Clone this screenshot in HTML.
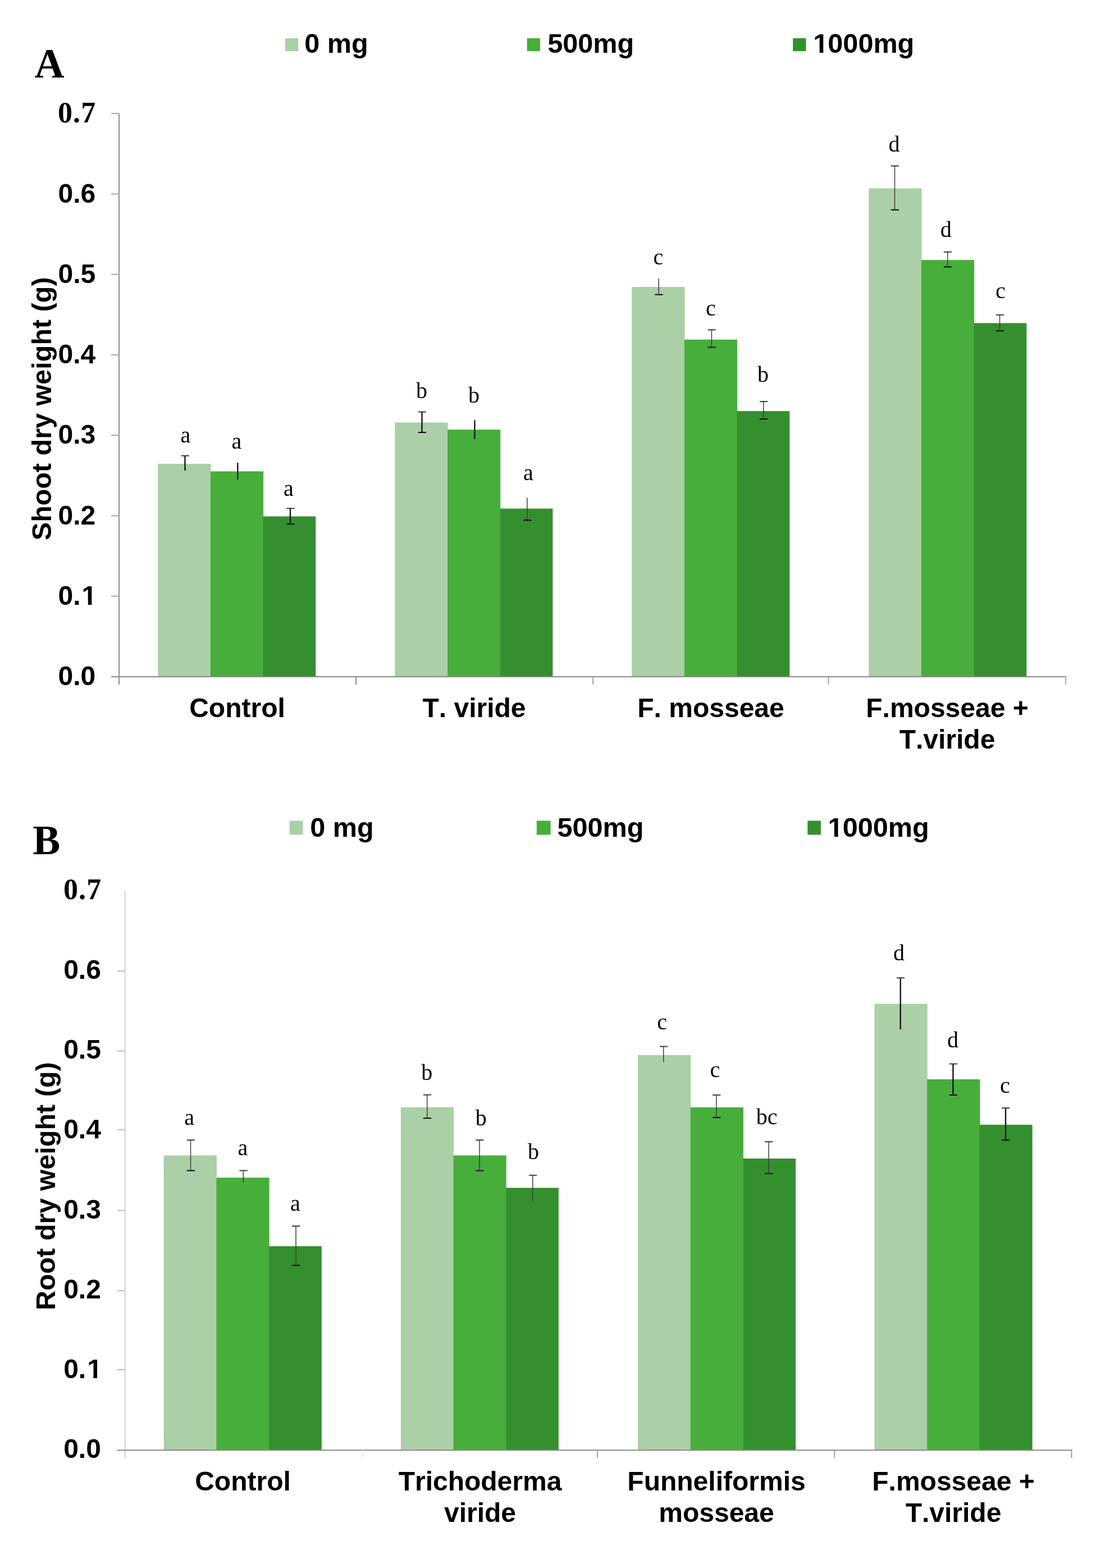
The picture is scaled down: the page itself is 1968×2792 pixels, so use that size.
<!DOCTYPE html>
<html lang="en">
<head>
<meta charset="utf-8">
<title>Shoot and root dry weight</title>
<style>
html,body{margin:0;padding:0;background:#fff;}
body{width:1968px;height:2792px;}
svg{display:block;filter:blur(0.6px);}
text{fill:#000;font-kerning:none;}
.b{font-family:"Liberation Sans",Arial,Helvetica,sans-serif;font-weight:700;font-size:48px;}
.s{font-family:"Liberation Serif","Times New Roman",Times,serif;font-size:40px;}
.lg{font-size:48.6px;}
.yt{font-size:48.5px;}
.pl{font-family:"Liberation Serif","Times New Roman",Times,serif;font-weight:700;font-size:73.5px;}
.t7{font-family:"Liberation Serif","Times New Roman",Times,serif;font-weight:700;font-size:52px;letter-spacing:1.2px;}
</style>
</head>
<body>
<svg width="1968" height="2792" viewBox="0 0 1968 2792">
<rect x="0" y="0" width="1968" height="2792" fill="#ffffff"/>
<g class="chart">
<rect x="281.2" y="825.9" width="94.2" height="379.0" fill="#abcfa6"/>
<rect x="374.9" y="839.3" width="94.2" height="365.6" fill="#47ae3c"/>
<rect x="468.6" y="919.5" width="93.7" height="285.4" fill="#34902f"/>
<rect x="703.3" y="752.3" width="94.2" height="452.6" fill="#abcfa6"/>
<rect x="797.0" y="765.0" width="94.2" height="439.9" fill="#47ae3c"/>
<rect x="890.7" y="905.6" width="93.7" height="299.3" fill="#34902f"/>
<rect x="1125.2" y="510.9" width="94.2" height="694.0" fill="#abcfa6"/>
<rect x="1218.9" y="604.6" width="94.2" height="600.3" fill="#47ae3c"/>
<rect x="1312.6" y="732.0" width="93.7" height="472.9" fill="#34902f"/>
<rect x="1547.2" y="335.4" width="94.2" height="869.5" fill="#abcfa6"/>
<rect x="1640.9" y="463.0" width="94.2" height="741.9" fill="#47ae3c"/>
<rect x="1734.6" y="575.3" width="93.7" height="629.6" fill="#34902f"/>
<line x1="212" y1="202.1" x2="212" y2="1218.9" stroke="#8e8e8e" stroke-width="2"/>
<line x1="212" y1="1204.9" x2="212" y2="1218.9" stroke="#8e8e8e" stroke-width="2"/>
<line x1="198" y1="1204.9" x2="1899.0" y2="1204.9" stroke="#8a8a8a" stroke-width="2"/>
<line x1="198" y1="1061.6" x2="212" y2="1061.6" stroke="#a6a6a6" stroke-width="2"/>
<line x1="198" y1="918.4" x2="212" y2="918.4" stroke="#a6a6a6" stroke-width="2"/>
<line x1="198" y1="775.1" x2="212" y2="775.1" stroke="#a6a6a6" stroke-width="2"/>
<line x1="198" y1="631.9" x2="212" y2="631.9" stroke="#a6a6a6" stroke-width="2"/>
<line x1="198" y1="488.6" x2="212" y2="488.6" stroke="#a6a6a6" stroke-width="2"/>
<line x1="198" y1="345.4" x2="212" y2="345.4" stroke="#a6a6a6" stroke-width="2"/>
<line x1="198" y1="202.1" x2="212" y2="202.1" stroke="#a6a6a6" stroke-width="2"/>
<line x1="634.0" y1="1204.9" x2="634.0" y2="1218.9" stroke="#8e8e8e" stroke-width="2"/>
<line x1="1056.2" y1="1204.9" x2="1056.2" y2="1218.9" stroke="#a4a4a4" stroke-width="2"/>
<line x1="1475.6" y1="1204.9" x2="1475.6" y2="1218.9" stroke="#a4a4a4" stroke-width="2"/>
<line x1="1898.0" y1="1204.9" x2="1898.0" y2="1218.9" stroke="#a4a4a4" stroke-width="2"/>
<text class="b" x="170.3" y="1220.2" text-anchor="end">0.0</text>
<text class="b" x="172.3" y="1076.9" dx="0 0 2" text-anchor="end">0.1</text>
<rect x="147.63" y="1070.84" width="9.18" height="7.30" fill="#fff"/>
<rect x="163.39" y="1070.84" width="8.57" height="7.30" fill="#fff"/>
<text class="b" x="170.3" y="933.7" text-anchor="end">0.2</text>
<text class="b" x="170.3" y="790.4" text-anchor="end">0.3</text>
<text class="b" x="170.3" y="647.2" text-anchor="end">0.4</text>
<text class="b" x="170.3" y="503.9" text-anchor="end">0.5</text>
<text class="b" x="170.3" y="360.7" text-anchor="end">0.6</text>
<text class="t7" x="171.5" y="218.2" text-anchor="end">0.7</text>
<text class="b yt" transform="translate(91,962.2) rotate(-90)">Shoot dry weight (g)</text>
<text class="pl" x="61.5" y="137.7">A</text>
<rect x="507.9" y="68.1" width="23.3" height="23" fill="#abcfa6"/>
<text class="b lg" x="542.3" y="94.2">0 mg</text>
<rect x="938.6" y="68.1" width="23.3" height="23" fill="#47ae3c"/>
<text class="b lg" x="975.3" y="94.2">500mg</text>
<rect x="1412.2" y="68.1" width="23.3" height="23" fill="#34902f"/>
<text class="b lg" x="1448.3" y="94.2" dx="0 -1">1000mg</text>
<rect x="1450.36" y="88.04" width="9.28" height="7.36" fill="#fff"/>
<rect x="1466.31" y="88.04" width="8.66" height="7.36" fill="#fff"/>
<text class="b" x="422.5" y="1276.5" text-anchor="middle">Control</text>
<text class="b" x="844.5" y="1276.5" text-anchor="middle">T. viride</text>
<text class="b" x="1266" y="1276.5" text-anchor="middle">F. mosseae</text>
<text class="b" x="1687" y="1276.5" text-anchor="middle">F.mosseae +</text>
<text class="b" x="1687" y="1332.5" text-anchor="middle">T.viride</text>
<line x1="329.5" y1="811.5" x2="329.5" y2="838" stroke="#0c0c0c" stroke-width="2.3"/>
<line x1="322.7" y1="811.5" x2="336.9" y2="811.5" stroke="#2a2a2a" stroke-width="1.8"/>
<line x1="423.3" y1="823.8" x2="423.3" y2="853.5" stroke="#0c0c0c" stroke-width="2.3"/>
<line x1="517" y1="905.2" x2="517" y2="933.1" stroke="#0c0c0c" stroke-width="2.3"/>
<line x1="510.2" y1="905.2" x2="524.4" y2="905.2" stroke="#2a2a2a" stroke-width="1.8"/>
<line x1="510.2" y1="933.1" x2="524.4" y2="933.1" stroke="#0c0c0c" stroke-width="2"/>
<line x1="751.5" y1="733.4" x2="751.5" y2="770" stroke="#0c0c0c" stroke-width="2.3"/>
<line x1="744.7" y1="733.4" x2="758.9" y2="733.4" stroke="#2a2a2a" stroke-width="1.8"/>
<line x1="744.7" y1="770" x2="758.9" y2="770" stroke="#0c0c0c" stroke-width="2"/>
<line x1="845.4" y1="748.2" x2="845.4" y2="781.5" stroke="#0c0c0c" stroke-width="2.3"/>
<line x1="938.8" y1="886" x2="938.8" y2="926.3" stroke="#3c3c3c" stroke-width="1.5"/>
<line x1="932.0" y1="926.3" x2="946.2" y2="926.3" stroke="#0c0c0c" stroke-width="2"/>
<line x1="1173.2" y1="495.8" x2="1173.2" y2="524.6" stroke="#3c3c3c" stroke-width="1.5"/>
<line x1="1166.4" y1="524.6" x2="1180.6" y2="524.6" stroke="#0c0c0c" stroke-width="2"/>
<line x1="1267.4" y1="587.3" x2="1267.4" y2="618.4" stroke="#3c3c3c" stroke-width="1.5"/>
<line x1="1260.6" y1="587.3" x2="1274.8" y2="587.3" stroke="#2a2a2a" stroke-width="1.8"/>
<line x1="1260.6" y1="618.4" x2="1274.8" y2="618.4" stroke="#0c0c0c" stroke-width="2"/>
<line x1="1359.8" y1="714.9" x2="1359.8" y2="746" stroke="#3c3c3c" stroke-width="1.5"/>
<line x1="1353.0" y1="714.9" x2="1367.2" y2="714.9" stroke="#2a2a2a" stroke-width="1.8"/>
<line x1="1353.0" y1="746" x2="1367.2" y2="746" stroke="#0c0c0c" stroke-width="2"/>
<line x1="1593.5" y1="295.5" x2="1593.5" y2="373.7" stroke="#3c3c3c" stroke-width="1.5"/>
<line x1="1586.7" y1="295.5" x2="1600.9" y2="295.5" stroke="#2a2a2a" stroke-width="1.8"/>
<line x1="1586.7" y1="373.7" x2="1600.9" y2="373.7" stroke="#0c0c0c" stroke-width="2"/>
<line x1="1687.7" y1="448.7" x2="1687.7" y2="475.2" stroke="#3c3c3c" stroke-width="1.5"/>
<line x1="1680.9" y1="448.7" x2="1695.1" y2="448.7" stroke="#2a2a2a" stroke-width="1.8"/>
<line x1="1680.9" y1="475.2" x2="1695.1" y2="475.2" stroke="#0c0c0c" stroke-width="2"/>
<line x1="1780.5" y1="560.7" x2="1780.5" y2="589.1" stroke="#3c3c3c" stroke-width="1.5"/>
<line x1="1773.7" y1="560.7" x2="1787.9" y2="560.7" stroke="#2a2a2a" stroke-width="1.8"/>
<line x1="1773.7" y1="589.1" x2="1787.9" y2="589.1" stroke="#0c0c0c" stroke-width="2"/>
<text class="s" x="330.5" y="787.7" text-anchor="middle">a</text>
<text class="s" x="421.5" y="799.1" text-anchor="middle">a</text>
<text class="s" x="514" y="882.8" text-anchor="middle">a</text>
<text class="s" x="751" y="708.6" text-anchor="middle">b</text>
<text class="s" x="844" y="716.6" text-anchor="middle">b</text>
<text class="s" x="941" y="855.2" text-anchor="middle">a</text>
<text class="s" x="1172.3" y="470.6" text-anchor="middle">c</text>
<text class="s" x="1266" y="561.6" text-anchor="middle">c</text>
<text class="s" x="1359" y="679.6" text-anchor="middle">b</text>
<text class="s" x="1592.5" y="270.3" text-anchor="middle">d</text>
<text class="s" x="1684.8" y="422.1" text-anchor="middle">d</text>
<text class="s" x="1782" y="531" text-anchor="middle">c</text>
</g>
<g class="chart">
<rect x="291.7" y="2057.4" width="94.2" height="524.9" fill="#abcfa6"/>
<rect x="385.4" y="2096.9" width="94.2" height="485.4" fill="#47ae3c"/>
<rect x="479.1" y="2219.0" width="93.7" height="363.3" fill="#34902f"/>
<rect x="713.8" y="1971.6" width="94.2" height="610.7" fill="#abcfa6"/>
<rect x="807.5" y="2057.4" width="94.2" height="524.9" fill="#47ae3c"/>
<rect x="901.2" y="2115.1" width="93.7" height="467.2" fill="#34902f"/>
<rect x="1136.0" y="1878.6" width="94.2" height="703.7" fill="#abcfa6"/>
<rect x="1229.7" y="1971.7" width="94.2" height="610.6" fill="#47ae3c"/>
<rect x="1323.4" y="2062.9" width="93.7" height="519.4" fill="#34902f"/>
<rect x="1557.5" y="1787.4" width="94.2" height="794.9" fill="#abcfa6"/>
<rect x="1651.2" y="1921.8" width="94.2" height="660.5" fill="#47ae3c"/>
<rect x="1744.9" y="2002.7" width="93.7" height="579.6" fill="#34902f"/>
<line x1="222.6" y1="1586.9" x2="222.6" y2="2596.3" stroke="#d2d2d2" stroke-width="2"/>
<line x1="222.6" y1="2582.3" x2="222.6" y2="2596.3" stroke="#dcdcdc" stroke-width="2"/>
<line x1="208.6" y1="2582.3" x2="1909.4" y2="2582.3" stroke="#8a8a8a" stroke-width="2"/>
<line x1="208.6" y1="2439.0" x2="222.6" y2="2439.0" stroke="#bdbdbd" stroke-width="2"/>
<line x1="208.6" y1="2298.2" x2="222.6" y2="2298.2" stroke="#bdbdbd" stroke-width="2"/>
<line x1="208.6" y1="2155.3" x2="222.6" y2="2155.3" stroke="#bdbdbd" stroke-width="2"/>
<line x1="208.6" y1="2011.8" x2="222.6" y2="2011.8" stroke="#bdbdbd" stroke-width="2"/>
<line x1="208.6" y1="1871.3" x2="222.6" y2="1871.3" stroke="#bdbdbd" stroke-width="2"/>
<line x1="208.6" y1="1729.1" x2="222.6" y2="1729.1" stroke="#bdbdbd" stroke-width="2"/>
<line x1="645.3" y1="2582.3" x2="645.3" y2="2596.3" stroke="#ececec" stroke-width="2"/>
<line x1="1063.9" y1="2582.3" x2="1063.9" y2="2596.3" stroke="#a0a0a0" stroke-width="2"/>
<line x1="1486.3" y1="2582.3" x2="1486.3" y2="2596.3" stroke="#a0a0a0" stroke-width="2"/>
<line x1="1908.4" y1="2582.3" x2="1908.4" y2="2596.3" stroke="#a0a0a0" stroke-width="2"/>
<text class="b" x="179.9" y="2596.0" text-anchor="end">0.0</text>
<text class="b" x="181.9" y="2453.7" dx="0 0 2" text-anchor="end">0.1</text>
<rect x="157.23" y="2447.60" width="9.18" height="7.30" fill="#fff"/>
<rect x="172.99" y="2447.60" width="8.57" height="7.30" fill="#fff"/>
<text class="b" x="179.9" y="2311.7" text-anchor="end">0.2</text>
<text class="b" x="179.9" y="2169.7" text-anchor="end">0.3</text>
<text class="b" x="179.9" y="2027.2" text-anchor="end">0.4</text>
<text class="b" x="179.9" y="1885.1" text-anchor="end">0.5</text>
<text class="b" x="179.9" y="1742.8" text-anchor="end">0.6</text>
<text class="t7" x="181.5" y="1600.8" text-anchor="end">0.7</text>
<text class="b yt" transform="translate(98,2333) rotate(-90)">Root dry weight (g)</text>
<text class="pl" x="58.3" y="1520.8">B</text>
<rect x="515.7" y="1461.4" width="23.8" height="25" fill="#abcfa6"/>
<text class="b lg" x="552.3" y="1489.8">0 mg</text>
<rect x="955.8" y="1461.4" width="24.8" height="25" fill="#47ae3c"/>
<text class="b lg" x="992.5" y="1489.8">500mg</text>
<rect x="1438.3" y="1461.4" width="23.6" height="25" fill="#34902f"/>
<text class="b lg" x="1474.6" y="1489.8" dx="0 -1">1000mg</text>
<rect x="1476.66" y="1483.64" width="9.28" height="7.36" fill="#fff"/>
<rect x="1492.61" y="1483.64" width="8.66" height="7.36" fill="#fff"/>
<text class="b" x="432.5" y="2654" text-anchor="middle">Control</text>
<text class="b" x="855" y="2654" text-anchor="middle">Trichoderma</text>
<text class="b" x="855" y="2710" text-anchor="middle">viride</text>
<text class="b" x="1276" y="2654" text-anchor="middle">Funneliformis</text>
<text class="b" x="1276" y="2710" text-anchor="middle">mosseae</text>
<text class="b" x="1698" y="2654" text-anchor="middle">F.mosseae +</text>
<text class="b" x="1698" y="2710" text-anchor="middle">T.viride</text>
<line x1="339.5" y1="2030" x2="339.5" y2="2084.4" stroke="#3c3c3c" stroke-width="1.5"/>
<line x1="332.7" y1="2030" x2="346.9" y2="2030" stroke="#2a2a2a" stroke-width="1.8"/>
<line x1="332.7" y1="2084.4" x2="346.9" y2="2084.4" stroke="#0c0c0c" stroke-width="2"/>
<line x1="433.3" y1="2084.4" x2="433.3" y2="2106" stroke="#3c3c3c" stroke-width="1.5"/>
<line x1="426.5" y1="2084.4" x2="440.7" y2="2084.4" stroke="#2a2a2a" stroke-width="1.8"/>
<line x1="527" y1="2183.2" x2="527" y2="2253.2" stroke="#3c3c3c" stroke-width="1.5"/>
<line x1="520.2" y1="2183.2" x2="534.4" y2="2183.2" stroke="#2a2a2a" stroke-width="1.8"/>
<line x1="520.2" y1="2253.2" x2="534.4" y2="2253.2" stroke="#0c0c0c" stroke-width="2"/>
<line x1="760.7" y1="1949.5" x2="760.7" y2="1991.1" stroke="#3c3c3c" stroke-width="1.5"/>
<line x1="753.9" y1="1949.5" x2="768.1" y2="1949.5" stroke="#2a2a2a" stroke-width="1.8"/>
<line x1="753.9" y1="1991.1" x2="768.1" y2="1991.1" stroke="#0c0c0c" stroke-width="2"/>
<line x1="854" y1="2030" x2="854" y2="2084.4" stroke="#3c3c3c" stroke-width="1.5"/>
<line x1="847.2" y1="2030" x2="861.4" y2="2030" stroke="#2a2a2a" stroke-width="1.8"/>
<line x1="847.2" y1="2084.4" x2="861.4" y2="2084.4" stroke="#0c0c0c" stroke-width="2"/>
<line x1="948.7" y1="2092.7" x2="948.7" y2="2138.4" stroke="#3c3c3c" stroke-width="1.5"/>
<line x1="941.9" y1="2092.7" x2="956.1" y2="2092.7" stroke="#2a2a2a" stroke-width="1.8"/>
<line x1="1181.7" y1="1863.4" x2="1181.7" y2="1891.4" stroke="#3c3c3c" stroke-width="1.5"/>
<line x1="1174.9" y1="1863.4" x2="1189.1" y2="1863.4" stroke="#2a2a2a" stroke-width="1.8"/>
<line x1="1275.9" y1="1949.8" x2="1275.9" y2="1989.9" stroke="#3c3c3c" stroke-width="1.5"/>
<line x1="1269.1" y1="1949.8" x2="1283.3" y2="1949.8" stroke="#2a2a2a" stroke-width="1.8"/>
<line x1="1269.1" y1="1989.9" x2="1283.3" y2="1989.9" stroke="#0c0c0c" stroke-width="2"/>
<line x1="1369" y1="2033.1" x2="1369" y2="2089.6" stroke="#3c3c3c" stroke-width="1.5"/>
<line x1="1362.2" y1="2033.1" x2="1376.4" y2="2033.1" stroke="#2a2a2a" stroke-width="1.8"/>
<line x1="1362.2" y1="2089.6" x2="1376.4" y2="2089.6" stroke="#0c0c0c" stroke-width="2"/>
<line x1="1603.7" y1="1741.2" x2="1603.7" y2="1833" stroke="#0c0c0c" stroke-width="2.3"/>
<line x1="1596.9" y1="1741.2" x2="1611.1" y2="1741.2" stroke="#2a2a2a" stroke-width="1.8"/>
<line x1="1697.4" y1="1894.4" x2="1697.4" y2="1949.8" stroke="#0c0c0c" stroke-width="2.3"/>
<line x1="1690.6" y1="1894.4" x2="1704.8" y2="1894.4" stroke="#2a2a2a" stroke-width="1.8"/>
<line x1="1690.6" y1="1949.8" x2="1704.8" y2="1949.8" stroke="#0c0c0c" stroke-width="2"/>
<line x1="1791" y1="1972.9" x2="1791" y2="2030" stroke="#0c0c0c" stroke-width="2.3"/>
<line x1="1784.2" y1="1972.9" x2="1798.4" y2="1972.9" stroke="#2a2a2a" stroke-width="1.8"/>
<line x1="1784.2" y1="2030" x2="1798.4" y2="2030" stroke="#0c0c0c" stroke-width="2"/>
<text class="s" x="337.2" y="2002.6" text-anchor="middle">a</text>
<text class="s" x="432.3" y="2057" text-anchor="middle">a</text>
<text class="s" x="526" y="2156.2" text-anchor="middle">a</text>
<text class="s" x="760.3" y="1923.4" text-anchor="middle">b</text>
<text class="s" x="856.8" y="2004.4" text-anchor="middle">b</text>
<text class="s" x="950" y="2064.3" text-anchor="middle">b</text>
<text class="s" x="1179.2" y="1833" text-anchor="middle">c</text>
<text class="s" x="1273.5" y="1918.2" text-anchor="middle">c</text>
<text class="s" x="1365.6" y="2002.1" text-anchor="middle">bc</text>
<text class="s" x="1601" y="1710.2" text-anchor="middle">d</text>
<text class="s" x="1697" y="1865.2" text-anchor="middle">d</text>
<text class="s" x="1790" y="1945.5" text-anchor="middle">c</text>
</g>
</svg>
</body>
</html>
